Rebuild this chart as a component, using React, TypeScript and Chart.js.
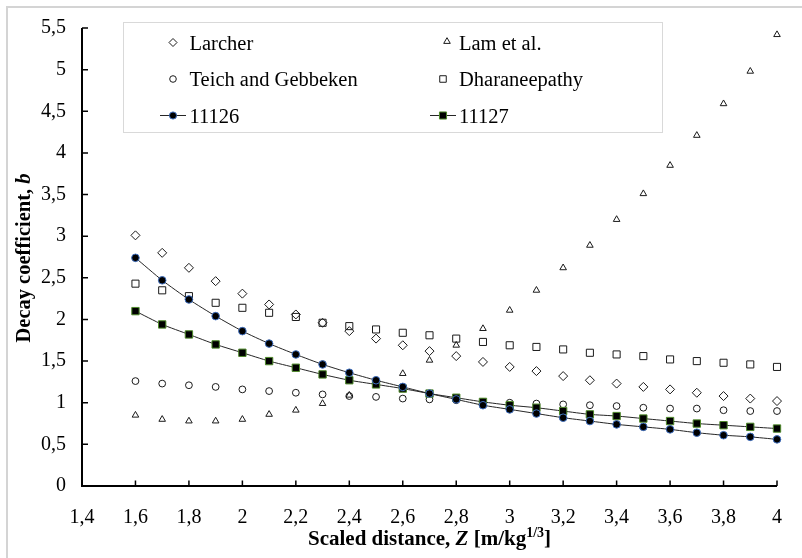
import React, { useEffect, useRef } from 'react';
import { Chart, registerables } from 'chart.js';

Chart.register(...registerables);

// ---------- data ----------
const zValues = [1.6, 1.7, 1.8, 1.9, 2.0, 2.1, 2.2, 2.3, 2.4, 2.5, 2.6, 2.7, 2.8, 2.9, 3.0, 3.1, 3.2, 3.3, 3.4, 3.5, 3.6, 3.7, 3.8, 3.9, 4.0];
const larcher = [3.01, 2.8, 2.62, 2.46, 2.31, 2.18, 2.06, 1.96, 1.86, 1.77, 1.69, 1.62, 1.56, 1.49, 1.43, 1.38, 1.32, 1.27, 1.23, 1.19, 1.16, 1.12, 1.08, 1.05, 1.02];
const lamEtAl = [0.85, 0.8, 0.78, 0.78, 0.8, 0.86, 0.91, 0.99, 1.09, 1.21, 1.35, 1.51, 1.69, 1.89, 2.11, 2.35, 2.62, 2.89, 3.2, 3.51, 3.85, 4.21, 4.59, 4.98, 5.42];
const teichGebbeken = [1.26, 1.23, 1.21, 1.19, 1.16, 1.14, 1.12, 1.1, 1.08, 1.07, 1.05, 1.04, 1.03, 1.01, 1.0, 0.99, 0.98, 0.97, 0.96, 0.94, 0.93, 0.93, 0.91, 0.9, 0.9];
const dharaneepathy = [2.43, 2.35, 2.28, 2.2, 2.14, 2.08, 2.03, 1.96, 1.92, 1.88, 1.84, 1.81, 1.77, 1.73, 1.69, 1.67, 1.64, 1.6, 1.58, 1.56, 1.52, 1.5, 1.48, 1.46, 1.43];
const series11126 = [2.74, 2.47, 2.24, 2.04, 1.86, 1.71, 1.58, 1.46, 1.36, 1.27, 1.19, 1.11, 1.04, 0.97, 0.92, 0.87, 0.82, 0.78, 0.74, 0.71, 0.68, 0.64, 0.61, 0.59, 0.56];
const series11127 = [2.1, 1.94, 1.82, 1.7, 1.6, 1.5, 1.42, 1.34, 1.27, 1.22, 1.17, 1.11, 1.06, 1.01, 0.97, 0.94, 0.9, 0.86, 0.84, 0.81, 0.78, 0.75, 0.73, 0.71, 0.69];

const seriesNames = ['Larcher', 'Lam et al.', 'Teich and Gebbeken', 'Dharaneepathy', '11126', '11127'];
const xTickValues = [1.4, 1.6, 1.8, 2.0, 2.2, 2.4, 2.6, 2.8, 3.0, 3.2, 3.4, 3.6, 3.8, 4.0];
const yTickValues = [0, 0.5, 1, 1.5, 2, 2.5, 3, 3.5, 4, 4.5, 5, 5.5];

const FONT = "'Liberation Serif', 'Times New Roman', serif";
const fmt = (v: number) => String(Math.round(v * 10) / 10).replace('.', ',');

type MarkerStyle = 'rectRot' | 'triangle' | 'circle' | 'rect';

function drawMarker(ctx: CanvasRenderingContext2D, style: MarkerStyle, x: number, y: number, r: number, fill: string | null, stroke: string) {
  ctx.beginPath();
  if (style === 'circle') {
    ctx.arc(x, y, r, 0, Math.PI * 2);
  } else if (style === 'rect') {
    const s = r * Math.SQRT1_2;
    ctx.rect(x - s, y - s, 2 * s, 2 * s);
  } else if (style === 'rectRot') {
    ctx.moveTo(x, y - r);
    ctx.lineTo(x + r, y);
    ctx.lineTo(x, y + r);
    ctx.lineTo(x - r, y);
    ctx.closePath();
  } else {
    const a = Math.PI * 2 / 3;
    ctx.moveTo(x, y - r);
    ctx.lineTo(x + Math.sin(a) * r, y - Math.cos(a) * r);
    ctx.lineTo(x + Math.sin(2 * a) * r, y - Math.cos(2 * a) * r);
    ctx.closePath();
  }
  if (fill) {
    ctx.fillStyle = fill;
    ctx.fill();
  }
  ctx.strokeStyle = stroke;
  ctx.lineWidth = 1;
  ctx.stroke();
}

function drawSegments(ctx: CanvasRenderingContext2D, segs: { t: string; f: string; dy?: number }[], cx: number, baseline: number) {
  let total = 0;
  segs.forEach((s) => {
    ctx.font = s.f;
    total += ctx.measureText(s.t).width;
  });
  let x = cx - total / 2;
  ctx.textAlign = 'left';
  ctx.textBaseline = 'alphabetic';
  segs.forEach((s) => {
    ctx.font = s.f;
    ctx.fillText(s.t, x, baseline + (s.dy || 0));
    x += ctx.measureText(s.t).width;
  });
}

const HOLLOW = '#1a1a1a';
const LINE_COLOR = '#262626';
const C11126_FILL = '#000000';
const C11126_RIM = '#3f6fbf';
const C11127_FILL = '#000000';
const C11127_RIM = '#4f8a2b';

const decorPlugin = {
  id: 'decor',
  beforeDraw(chart: any) {
    const ctx: CanvasRenderingContext2D = chart.ctx;
    ctx.save();
    ctx.fillStyle = '#ffffff';
    ctx.fillRect(0, 0, chart.width, chart.height);
    ctx.strokeStyle = '#d4d4d4';
    ctx.lineWidth = 2;
    ctx.strokeRect(7, 7, chart.width + 10, chart.height + 10);
    ctx.restore();
  },
  beforeDatasetsDraw(chart: any) {
    const ctx: CanvasRenderingContext2D = chart.ctx;
    const { left, right, top, bottom } = chart.chartArea;
    const xs = chart.scales.x;
    const ys = chart.scales.y;
    ctx.save();
    ctx.strokeStyle = '#000';
    ctx.lineWidth = 2;
    ctx.beginPath();
    ctx.moveTo(left, top);
    ctx.lineTo(left, bottom);
    ctx.lineTo(right, bottom);
    ctx.stroke();
    ctx.lineWidth = 1.5;
    ctx.beginPath();
    xTickValues.forEach((v) => {
      const px = xs.getPixelForValue(v);
      ctx.moveTo(px, bottom);
      ctx.lineTo(px, bottom - 5.5);
    });
    yTickValues.forEach((v) => {
      const py = ys.getPixelForValue(v);
      ctx.moveTo(left, py);
      ctx.lineTo(left + 6, py);
    });
    ctx.stroke();

    // axis titles
    ctx.fillStyle = '#000';
    drawSegments(ctx, [
      { t: 'Scaled distance, ', f: `bold 21px ${FONT}` },
      { t: 'Z', f: `italic bold 21px ${FONT}` },
      { t: ' [m/kg', f: `bold 21px ${FONT}` },
      { t: '1/3', f: `bold 14px ${FONT}`, dy: -8 },
      { t: ']', f: `bold 21px ${FONT}` },
    ], (left + right) / 2, 545);

    ctx.save();
    ctx.translate(29.5, 258);
    ctx.rotate(-Math.PI / 2);
    drawSegments(ctx, [
      { t: 'Decay coefficient, ', f: `bold 20.5px ${FONT}` },
      { t: 'b', f: `italic bold 20.5px ${FONT}` },
    ], 0, 0);
    ctx.restore();
    ctx.restore();
  },
  afterDatasetsDraw(chart: any) {
    const ctx: CanvasRenderingContext2D = chart.ctx;
    ctx.save();
    // legend box
    ctx.fillStyle = '#ffffff';
    ctx.fillRect(123.5, 22.5, 539, 110);
    ctx.strokeStyle = '#d9d9d9';
    ctx.lineWidth = 1;
    ctx.strokeRect(123.5, 22.5, 539, 110);

    const col1Marker = 173;
    const col1Text = 189.5;
    const col2Marker = 446;
    const col2Text = 459;
    const rowBase = [49.5, 86, 122.5];
    const rowMid = [42.5, 79, 115.5];

    // row 1
    drawMarker(ctx, 'rectRot', col1Marker, rowMid[0], 4, null, HOLLOW);
    drawMarker(ctx, 'triangle', col2Marker + 1, rowMid[0] - 1, 3.8, null, HOLLOW);
    // row 2
    drawMarker(ctx, 'circle', col1Marker, rowMid[1], 3.3, null, HOLLOW);
    drawMarker(ctx, 'rect', col2Marker - 3, rowMid[1], 4.6, null, HOLLOW);
    // row 3 (lines)
    ctx.strokeStyle = LINE_COLOR;
    ctx.lineWidth = 1;
    ctx.beginPath();
    ctx.moveTo(160, rowMid[2]);
    ctx.lineTo(186, rowMid[2]);
    ctx.moveTo(430, rowMid[2]);
    ctx.lineTo(456, rowMid[2]);
    ctx.stroke();
    drawMarker(ctx, 'circle', 173, rowMid[2], 3.6, C11126_FILL, C11126_RIM);
    drawMarker(ctx, 'rect', 443, rowMid[2], 5, C11127_FILL, C11127_RIM);

    ctx.fillStyle = '#000';
    ctx.font = `20.5px ${FONT}`;
    ctx.textAlign = 'left';
    ctx.textBaseline = 'alphabetic';
    ctx.fillText(seriesNames[0], col1Text, rowBase[0]);
    ctx.fillText(seriesNames[1], col2Text, rowBase[0]);
    ctx.fillText(seriesNames[2], col1Text, rowBase[1]);
    ctx.fillText(seriesNames[3], col2Text, rowBase[1]);
    ctx.fillText(seriesNames[4], col1Text, rowBase[2]);
    ctx.fillText(seriesNames[5], col2Text, rowBase[2]);
    ctx.restore();
  },
};

const toPoints = (ys: number[]) => zValues.map((z, i) => ({ x: z, y: ys[i] }));

export default function App() {
  const ref = useRef<HTMLCanvasElement>(null);

  useEffect(() => {
    if (!ref.current) return;
    const hollow = (label: string, data: number[], style: MarkerStyle, radius: number) => ({
      label,
      data: toPoints(data),
      showLine: false,
      pointStyle: style,
      pointRadius: radius,
      pointBackgroundColor: 'rgba(0,0,0,0)',
      pointBorderColor: HOLLOW,
      pointBorderWidth: 1,
      clip: false as const,
      order: 1,
    });
    const chart = new Chart(ref.current, {
      type: 'scatter',
      data: {
        datasets: [
          hollow(seriesNames[0], larcher, 'rectRot', 4.5),
          hollow(seriesNames[1], lamEtAl, 'triangle', 3.8),
          hollow(seriesNames[2], teichGebbeken, 'circle', 3.4),
          hollow(seriesNames[3], dharaneepathy, 'rect', 5),
          {
            label: seriesNames[4],
            data: toPoints(series11126),
            showLine: true,
            borderColor: LINE_COLOR,
            borderWidth: 1,
            tension: 0.2,
            pointStyle: 'circle',
            pointRadius: 3.8,
            pointBackgroundColor: C11126_FILL,
            pointBorderColor: C11126_RIM,
            pointBorderWidth: 1,
            clip: false as const,
            order: 0,
          },
          {
            label: seriesNames[5],
            data: toPoints(series11127),
            showLine: true,
            borderColor: LINE_COLOR,
            borderWidth: 1,
            tension: 0.2,
            pointStyle: 'rect',
            pointRadius: 5.2,
            pointBackgroundColor: C11127_FILL,
            pointBorderColor: C11127_RIM,
            pointBorderWidth: 1,
            clip: false as const,
            order: 0,
          },
        ],
      },
      options: {
        responsive: false,
        animation: false,
        devicePixelRatio: 1,
        layout: { padding: { left: 0, right: 7, top: 24.5, bottom: 0 }, autoPadding: false },
        plugins: { legend: { display: false }, tooltip: { enabled: false }, title: { display: false } },
        events: [],
        scales: {
          x: {
            type: 'linear',
            min: 1.4,
            max: 4,
            afterBuildTicks: (s: any) => {
              s.ticks = xTickValues.map((v) => ({ value: v }));
            },
            afterFit: (s: any) => {
              s.height = 72;
            },
            grid: { display: false, drawTicks: false },
            border: { display: false },
            ticks: {
              padding: 20,
              color: '#000',
              font: { family: FONT, size: 20 },
              maxRotation: 0,
              autoSkip: false,
              callback: (v: any) => fmt(Number(v)),
            },
          },
          y: {
            type: 'linear',
            min: 0,
            max: 5.5,
            afterBuildTicks: (s: any) => {
              s.ticks = yTickValues.map((v) => ({ value: v }));
            },
            afterFit: (s: any) => {
              s.width = 82;
            },
            grid: { display: false, drawTicks: false },
            border: { display: false },
            ticks: {
              padding: 16,
              color: '#000',
              font: { family: FONT, size: 20 },
              autoSkip: false,
              callback: (v: any) => fmt(Number(v)),
            },
          },
        },
      },
      plugins: [decorPlugin],
    } as any);
    return () => chart.destroy();
  }, []);

  return (
    <div style={{ position: 'absolute', left: 0, top: 0, width: 802, height: 558, background: '#fff' }}>
      <canvas ref={ref} width={802} height={558} style={{ display: 'block', width: 802, height: 558 }} />
    </div>
  );
}
